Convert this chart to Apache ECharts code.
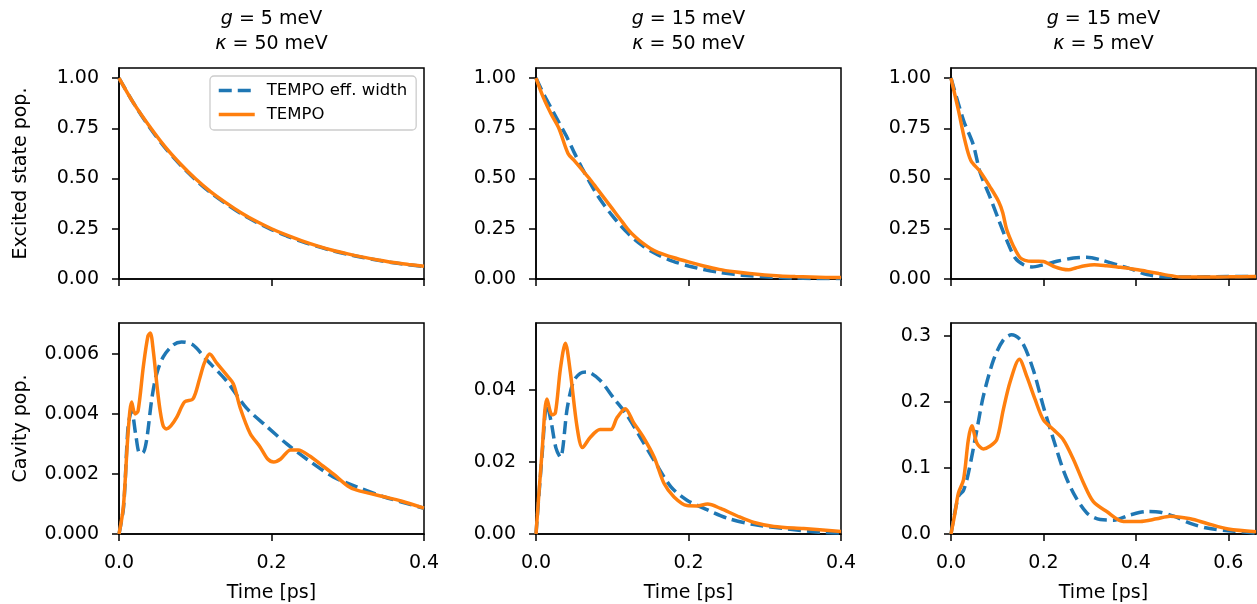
<!DOCTYPE html>
<html><head><meta charset="utf-8">
<script src="https://cdn.jsdelivr.net/npm/echarts@6/dist/echarts.min.js"></script>
<style>html,body{margin:0;padding:0;background:#fff}#c{width:1257px;height:604px}</style>
</head><body><div id="c"></div>
<script>
// ---------- DATA ----------
const seriesNames = ['TEMPO eff. width', 'TEMPO'];
const panelTitles = [
  ['g', ' = 5 meV', 'κ', ' = 50 meV'],
  ['g', ' = 15 meV', 'κ', ' = 50 meV'],
  ['g', ' = 15 meV', 'κ', ' = 5 meV']
];
const yNameTop = 'Excited state pop.';
const yNameBottom = 'Cavity pop.';
const xName = 'Time [ps]';

const xTicksA = [0, 0.2, 0.4];
const xTicksB = [0, 0.2, 0.4, 0.6];
const yTicksTop = [0, 0.25, 0.5, 0.75, 1.0];
const yTicksP4 = [0, 0.002, 0.004, 0.006];
const yTicksP5 = [0, 0.02, 0.04];
const yTicksP6 = [0, 0.1, 0.2, 0.3];

// Panel 1: g=5, kappa=50, excited state
const p1T = [0,0.02,0.04,0.06,0.08,0.10,0.12,0.14,0.16,0.18,0.20,0.22,0.24,0.26,0.28,0.30,0.32,0.34,0.36,0.38,0.40];
const p1Blue = [1.00,0.87,0.755,0.655,0.57,0.495,0.43,0.375,0.325,0.283,0.246,0.214,0.186,0.162,0.141,0.123,0.107,0.093,0.081,0.071,0.062];
const p1Orange = [1.00,0.87,0.76,0.66,0.575,0.50,0.435,0.38,0.33,0.287,0.25,0.218,0.19,0.165,0.143,0.125,0.109,0.095,0.082,0.072,0.063];

// Panel 2: g=15, kappa=50, excited state
const p2BlueT = [0,0.01,0.02,0.03,0.04,0.05,0.06,0.07,0.08,0.09,0.10,0.11,0.12,0.13,0.14,0.15,0.16,0.18,0.20,0.22,0.24,0.26,0.28,0.30,0.32,0.34,0.36,0.38,0.40];
const p2Blue = [1.0,0.92,0.85,0.78,0.71,0.63,0.555,0.485,0.42,0.365,0.315,0.27,0.23,0.195,0.165,0.14,0.12,0.088,0.065,0.047,0.033,0.023,0.016,0.011,0.007,0.005,0.003,0.002,0.002];
const p2OrangeT = [0,0.01,0.02,0.03,0.042,0.05,0.06,0.07,0.08,0.09,0.10,0.11,0.12,0.13,0.14,0.15,0.16,0.18,0.20,0.22,0.24,0.26,0.28,0.30,0.32,0.34,0.36,0.38,0.40];
const p2Orange = [1.0,0.90,0.82,0.75,0.625,0.59,0.545,0.50,0.45,0.40,0.35,0.30,0.25,0.21,0.178,0.152,0.133,0.107,0.085,0.065,0.048,0.036,0.027,0.02,0.015,0.012,0.01,0.008,0.007];

// Panel 3: g=15, kappa=5, excited state
const p3BlueT = [0,0.027,0.048,0.063,0.084,0.103,0.12,0.139,0.157,0.175,0.2,0.229,0.265,0.294,0.323,0.359,0.395,0.424,0.467,0.5,0.6,0.66];
const p3Blue = [1.0,0.79,0.67,0.53,0.41,0.295,0.196,0.104,0.071,0.06,0.071,0.088,0.104,0.108,0.096,0.071,0.046,0.022,0.01,0.01,0.012,0.012];
const p3OrangeT = [0,0.016,0.03,0.043,0.063,0.084,0.103,0.112,0.12,0.13,0.139,0.15,0.16,0.175,0.19,0.2,0.212,0.225,0.24,0.255,0.27,0.29,0.31,0.337,0.36,0.38,0.40,0.424,0.45,0.48,0.5,0.55,0.6,0.66];
const p3Orange = [1.0,0.84,0.69,0.59,0.535,0.46,0.386,0.33,0.25,0.19,0.146,0.105,0.093,0.088,0.088,0.087,0.075,0.06,0.05,0.046,0.055,0.066,0.071,0.066,0.06,0.055,0.047,0.038,0.027,0.015,0.01,0.01,0.011,0.013];

// Panel 4: g=5, kappa=50, cavity
const p4BlueT = [0,0.006,0.012,0.0166,0.022,0.027,0.031,0.036,0.043,0.049,0.058,0.071,0.082,0.097,0.115,0.141,0.167,0.193,0.22,0.246,0.281,0.311,0.346,0.4];
const p4Blue = [0,0.0009,0.0036,0.0041,0.0033,0.0027,0.0027,0.0031,0.0045,0.0053,0.0059,0.0063,0.0064,0.0063,0.0058,0.0051,0.0042,0.0036,0.0030,0.0025,0.0019,0.00158,0.00125,0.00086];
const p4OrangeT = [0,0.0057,0.012,0.0166,0.021,0.025,0.032,0.038,0.041,0.045,0.05,0.054,0.058,0.062,0.068,0.076,0.086,0.097,0.106,0.112,0.119,0.128,0.141,0.15,0.159,0.172,0.185,0.195,0.203,0.212,0.225,0.235,0.25,0.263,0.281,0.3,0.311,0.346,0.37,0.4];
const p4Orange = [0,0.0009,0.0034,0.0044,0.0040,0.0041,0.0056,0.0066,0.0067,0.0061,0.0049,0.0041,0.0036,0.0035,0.0036,0.0039,0.0044,0.0045,0.0052,0.0057,0.0060,0.0057,0.0053,0.0050,0.0042,0.00335,0.0029,0.0025,0.0024,0.0025,0.0028,0.0028,0.0026,0.00235,0.0020,0.0016,0.00147,0.00125,0.0011,0.00086];

// Panel 5: g=15, kappa=50, cavity
const p5BlueT = [0,0.008,0.0144,0.02,0.026,0.032,0.041,0.049,0.058,0.067,0.084,0.102,0.119,0.137,0.155,0.177,0.198,0.225,0.251,0.286,0.33,0.373,0.4];
const p5Blue = [0,0.022,0.036,0.031,0.024,0.0213,0.035,0.0423,0.0446,0.045,0.0427,0.0377,0.0331,0.0268,0.0204,0.0131,0.0094,0.0067,0.0044,0.0026,0.0014,0.0005,0.0003];
const p5OrangeT = [0,0.008,0.0144,0.021,0.0254,0.032,0.0385,0.045,0.054,0.061,0.071,0.084,0.098,0.106,0.117,0.128,0.141,0.155,0.168,0.181,0.198,0.211,0.225,0.242,0.264,0.286,0.312,0.351,0.4];
const p5Orange = [0,0.023,0.0375,0.0331,0.0336,0.0459,0.053,0.045,0.0295,0.024,0.0268,0.029,0.029,0.0322,0.0348,0.0309,0.0268,0.0213,0.014,0.0103,0.0079,0.0078,0.0083,0.0071,0.005,0.0032,0.0021,0.0015,0.0007];

// Panel 6: g=15, kappa=5, cavity
const p6BlueT = [0,0.016,0.027,0.0375,0.056,0.07,0.092,0.113,0.131,0.153,0.178,0.2,0.222,0.243,0.265,0.294,0.323,0.352,0.388,0.424,0.453,0.482,0.518,0.554,0.6,0.66];
const p6Blue = [0,0.057,0.066,0.092,0.158,0.209,0.264,0.294,0.302,0.292,0.249,0.193,0.143,0.097,0.062,0.032,0.022,0.021,0.029,0.034,0.033,0.027,0.016,0.009,0.005,0.0015];
const p6OrangeT = [0,0.0087,0.016,0.027,0.0375,0.045,0.056,0.07,0.084,0.099,0.113,0.128,0.148,0.164,0.182,0.2,0.222,0.243,0.265,0.287,0.308,0.337,0.373,0.409,0.445,0.474,0.518,0.554,0.6,0.66];
const p6Orange = [0,0.032,0.062,0.082,0.143,0.164,0.138,0.129,0.133,0.143,0.188,0.231,0.265,0.239,0.204,0.173,0.158,0.143,0.113,0.077,0.049,0.034,0.019,0.019,0.023,0.027,0.023,0.016,0.0076,0.0035];

// ---------- BUILD ----------
const FONT = 'DejaVu Sans';
const BLUE = '#1f77b4', ORANGE = '#ff7f0e';
const LW = 3.5, DASH = [13, 6];
const zip = (t, v) => t.map((x, i) => [x, v[i]]);

const panels = [
  {grid:{left:119,top:68,width:305,height:211}, xMax:0.4, xTicks:xTicksA, yMax:1.05, yTicks:yTicksTop, yDec:2, blue:zip(p1T,p1Blue), orange:zip(p1T,p1Orange), yName:yNameTop},
  {grid:{left:536,top:68,width:305,height:211}, xMax:0.4, xTicks:xTicksA, yMax:1.05, yTicks:yTicksTop, yDec:2, blue:zip(p2BlueT,p2Blue), orange:zip(p2OrangeT,p2Orange)},
  {grid:{left:951,top:68,width:305,height:211}, xMax:0.66, xTicks:xTicksB, yMax:1.05, yTicks:yTicksTop, yDec:2, blue:zip(p3BlueT,p3Blue), orange:zip(p3OrangeT,p3Orange)},
  {grid:{left:119,top:323,width:305,height:211}, xMax:0.4, xTicks:xTicksA, yMax:0.00703, yTicks:yTicksP4, yDec:3, blue:zip(p4BlueT,p4Blue), orange:zip(p4OrangeT,p4Orange), yName:yNameBottom, bottom:true},
  {grid:{left:536,top:323,width:305,height:211}, xMax:0.4, xTicks:xTicksA, yMax:0.0586, yTicks:yTicksP5, yDec:2, blue:zip(p5BlueT,p5Blue), orange:zip(p5OrangeT,p5Orange), bottom:true},
  {grid:{left:951,top:323,width:305,height:211}, xMax:0.66, xTicks:xTicksB, yMax:0.32, yTicks:yTicksP6, yDec:1, blue:zip(p6BlueT,p6Blue), orange:zip(p6OrangeT,p6Orange), bottom:true}
];

const axisLine = {show:true, onZero:false, lineStyle:{color:'#000', width:1.5}};
const grid = [], xAxis = [], yAxis = [], series = [];
panels.forEach((p, i) => {
  grid.push(Object.assign({show:true, borderColor:'#000', borderWidth:1.5, backgroundColor:'transparent', containLabel:false, outerBoundsMode:'none'}, p.grid));
  xAxis.push({
    gridIndex:i, type:'value', min:0, max:p.xMax,
    axisLine, splitLine:{show:false},
    axisTick:{show:true, inside:false, length:7, lineStyle:{color:'#000', width:1.5}, customValues:p.xTicks},
    axisLabel:{show:!!p.bottom, customValues:p.xTicks, formatter:v => v.toFixed(1), margin:20, fontFamily:FONT, fontSize:19, color:'#000'},
    name: p.bottom ? xName : '', nameLocation:'middle', nameGap:50,
    nameTextStyle:{fontFamily:FONT, fontSize:19, color:'#000'}
  });
  yAxis.push({
    gridIndex:i, type:'value', min:0, max:p.yMax,
    axisLine, splitLine:{show:false},
    axisTick:{show:true, inside:false, length:7, lineStyle:{color:'#000', width:1.5}, customValues:p.yTicks},
    axisLabel:{show:true, customValues:p.yTicks, formatter:v => v.toFixed(p.yDec), margin:20, fontFamily:FONT, fontSize:19, color:'#000'},
    name: p.yName || '', nameLocation:'middle', nameRotate:90, nameGap:88,
    nameTextStyle:{fontFamily:FONT, fontSize:19, color:'#000'}
  });
  series.push({
    type:'line', name:seriesNames[0], xAxisIndex:i, yAxisIndex:i, data:p.blue,
    symbol:'none', showSymbol:false, smooth:0.3, z:2,
    lineStyle:{color:BLUE, width:LW, type:DASH}, itemStyle:{color:BLUE}
  });
  series.push({
    type:'line', name:seriesNames[1], xAxisIndex:i, yAxisIndex:i, data:p.orange,
    symbol:'none', showSymbol:false, smooth:0.3, z:3,
    lineStyle:{color:ORANGE, width:LW}, itemStyle:{color:ORANGE}
  });
});

const titleCenters = [271.5, 688.5, 1103.5];
const rich = {
  i:{fontFamily:FONT, fontSize:19, fontStyle:'italic', color:'#000', lineHeight:25},
  n:{fontFamily:FONT, fontSize:19, color:'#000', lineHeight:25}
};
const graphic = panelTitles.map((t, k) => ({
  type:'text', x:titleCenters[k], y:31.5, silent:true,
  style:{
    text:'{i|' + t[0] + '}{n|' + t[1] + '}\n{i|' + t[2] + '}{n|' + t[3] + '}',
    rich, align:'center', verticalAlign:'middle', textAlign:'center', textVerticalAlign:'middle',
    fontFamily:FONT, fontSize:19, fill:'#000'
  }
}));

const chart = echarts.init(document.getElementById('c'), null, {renderer:'canvas'});
chart.setOption({
  animation:false,
  backgroundColor:'#fff',
  grid, xAxis, yAxis, series, graphic,
  legend:{
    show:true, left:210, top:76, orient:'vertical',
    data:[
      {name:seriesNames[0], itemStyle:{opacity:0, borderWidth:0}, lineStyle:{color:BLUE, width:LW, type:DASH, opacity:1}},
      {name:seriesNames[1], itemStyle:{opacity:0, borderWidth:0}, lineStyle:{color:ORANGE, width:LW, type:'solid', opacity:1}}
    ],
    itemWidth:36, itemHeight:18, itemGap:7,
    padding:[6,9,7,7],
    backgroundColor:'rgba(255,255,255,0.8)', borderColor:'#cccccc', borderWidth:1.3, borderRadius:4,
    textStyle:{fontFamily:FONT, fontSize:16.5, color:'#000', padding:[0,0,0,7]},
    selectedMode:false
  }
});
</script>
</body></html>
